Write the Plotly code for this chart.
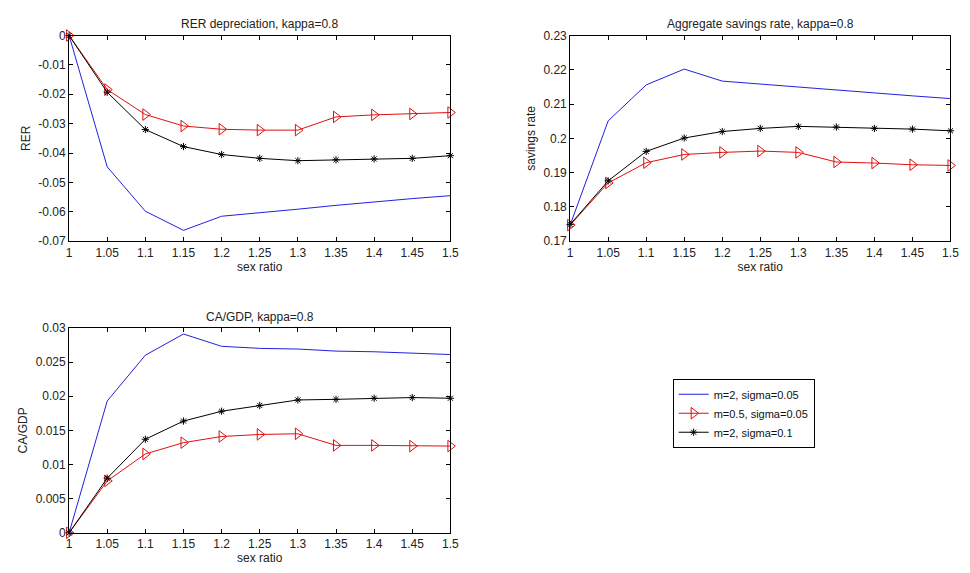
import plotly.graph_objects as go

sex_ratio = [1.0, 1.05, 1.1, 1.15, 1.2, 1.25, 1.3, 1.35, 1.4, 1.45, 1.5]
x_ticks = [1, 1.05, 1.1, 1.15, 1.2, 1.25, 1.3, 1.35, 1.4, 1.45, 1.5]
x_ticktext = ["1", "1.05", "1.1", "1.15", "1.2", "1.25", "1.3", "1.35", "1.4", "1.45", "1.5"]

series_names = ["m=2, sigma=0.05", "m=0.5, sigma=0.05", "m=2, sigma=0.1"]

rer_blue = [0, -0.0447, -0.0598, -0.0663, -0.0615, -0.0604, -0.0591, -0.0578, -0.0566, -0.0555, -0.0545]
rer_red = [0, -0.0184, -0.0269, -0.0308, -0.0319, -0.0322, -0.0322, -0.0277, -0.0270, -0.0267, -0.0262]
rer_black = [0, -0.0193, -0.0320, -0.0378, -0.0405, -0.0418, -0.0426, -0.0423, -0.0420, -0.0418, -0.0409]

sav_blue = [0.1747, 0.2051, 0.2156, 0.2202, 0.2167, 0.2158, 0.2150, 0.2141, 0.2132, 0.2124, 0.2116]
sav_red = [0.1747, 0.1870, 0.1929, 0.1953, 0.1959, 0.1963, 0.1959, 0.1931, 0.1928, 0.1923, 0.1921]
sav_black = [0.1749, 0.1876, 0.1962, 0.2001, 0.2020, 0.2029, 0.2035, 0.2033, 0.2029, 0.2027, 0.2022]

ca_blue = [0, 0.0193, 0.0260, 0.0291, 0.0273, 0.0270, 0.0269, 0.0266, 0.0265, 0.0263, 0.0261]
ca_red = [0, 0.0076, 0.01155, 0.0132, 0.0141, 0.0144, 0.0145, 0.0128, 0.0128, 0.0127, 0.0127]
ca_black = [0, 0.0080, 0.0137, 0.01636, 0.0178, 0.01864, 0.01945, 0.01954, 0.0197, 0.0198, 0.0197]

rer_ticks = [0, -0.01, -0.02, -0.03, -0.04, -0.05, -0.06, -0.07]
rer_ticktext = ["0", "-0.01", "-0.02", "-0.03", "-0.04", "-0.05", "-0.06", "-0.07"]
sav_ticks = [0.17, 0.18, 0.19, 0.2, 0.21, 0.22, 0.23]
sav_ticktext = ["0.17", "0.18", "0.19", "0.2", "0.21", "0.22", "0.23"]
ca_ticks = [0, 0.005, 0.01, 0.015, 0.02, 0.025, 0.03]
ca_ticktext = ["0", "0.005", "0.01", "0.015", "0.02", "0.025", "0.03"]

FONT = "Liberation Sans, Arial, sans-serif"
BLUE = "#2020e0"
RED = "#e01010"
BLACK = "#000000"
TXT = "#222"

fig = go.Figure()

panels = [
    ("x", "y", rer_blue, rer_red, rer_black, True),
    ("x2", "y2", sav_blue, sav_red, sav_black, False),
    ("x3", "y3", ca_blue, ca_red, ca_black, False),
]
for xa, ya, b, r, k, show in panels:
    fig.add_trace(go.Scatter(x=sex_ratio, y=b, xaxis=xa, yaxis=ya, mode="lines",
                             line=dict(color=BLUE, width=1), name=series_names[0],
                             showlegend=show, cliponaxis=False))
    fig.add_trace(go.Scatter(x=sex_ratio, y=r, xaxis=xa, yaxis=ya, mode="lines+markers",
                             line=dict(color=RED, width=1),
                             marker=dict(symbol="triangle-right-open", size=10, color=RED,
                                         line=dict(width=1, color=RED)),
                             name=series_names[1], showlegend=show, cliponaxis=False))
    fig.add_trace(go.Scatter(x=sex_ratio, y=k, xaxis=xa, yaxis=ya, mode="lines+markers",
                             line=dict(color=BLACK, width=1),
                             marker=dict(symbol="asterisk-open", size=6, color=BLACK,
                                         line=dict(width=1, color=BLACK)),
                             name=series_names[2], showlegend=show, cliponaxis=False))

def xaxis(domain, anchor):
    return dict(domain=domain, anchor=anchor, range=[1, 1.5], tickvals=x_ticks,
                ticktext=x_ticktext, ticks="inside", ticklen=4, tickcolor="black",
                showline=True, linecolor="black", linewidth=1, mirror="ticks",
                showgrid=False, zeroline=False,
                tickfont=dict(family=FONT, size=12, color=TXT),
                title=dict(text="sex ratio", font=dict(family=FONT, size=12, color=TXT), standoff=0))

def yaxis(domain, anchor, rng, tv, tt, title):
    return dict(domain=domain, anchor=anchor, range=rng, tickvals=tv, ticktext=tt,
                ticks="inside", ticklen=4, tickcolor="black",
                showline=True, linecolor="black", linewidth=1, mirror="ticks",
                showgrid=False, zeroline=False,
                tickfont=dict(family=FONT, size=12, color=TXT),
                title=dict(text=title, font=dict(family=FONT, size=12, color=TXT), standoff=5))

fig.update_layout(
    width=970, height=573,
    margin=dict(l=0, r=0, t=0, b=0),
    paper_bgcolor="white", plot_bgcolor="white",
    xaxis=xaxis([0.069, 0.467], "y"),
    yaxis=yaxis([0.581, 0.949], "x", [-0.07, 0], rer_ticks, rer_ticktext, "RER"),
    xaxis2=xaxis([0.592, 0.989], "y2"),
    yaxis2=yaxis([0.581, 0.949], "x2", [0.17, 0.23], sav_ticks, sav_ticktext, "savings rate"),
    xaxis3=xaxis([0.069, 0.467], "y3"),
    yaxis3=yaxis([0.0593, 0.426], "x3", [0, 0.03], ca_ticks, ca_ticktext, "CA/GDP"),
    legend=dict(x=0.699, y=0.335, xanchor="left", yanchor="top",
                bgcolor="white", bordercolor="black", borderwidth=1,
                font=dict(family=FONT, size=11, color="#111"),
                tracegroupgap=0, itemwidth=30),
    annotations=[
        dict(text="RER depreciation, kappa=0.8", x=0.268, y=0.953, xref="paper", yref="paper",
             xanchor="center", yanchor="bottom", showarrow=False,
             font=dict(family=FONT, size=12, color=TXT)),
        dict(text="Aggregate savings rate, kappa=0.8", x=0.7905, y=0.953, xref="paper", yref="paper",
             xanchor="center", yanchor="bottom", showarrow=False,
             font=dict(family=FONT, size=12, color=TXT)),
        dict(text="CA/GDP, kappa=0.8", x=0.268, y=0.430, xref="paper", yref="paper",
             xanchor="center", yanchor="bottom", showarrow=False,
             font=dict(family=FONT, size=12, color=TXT)),
    ],
)

fig.write_html("out.html")
